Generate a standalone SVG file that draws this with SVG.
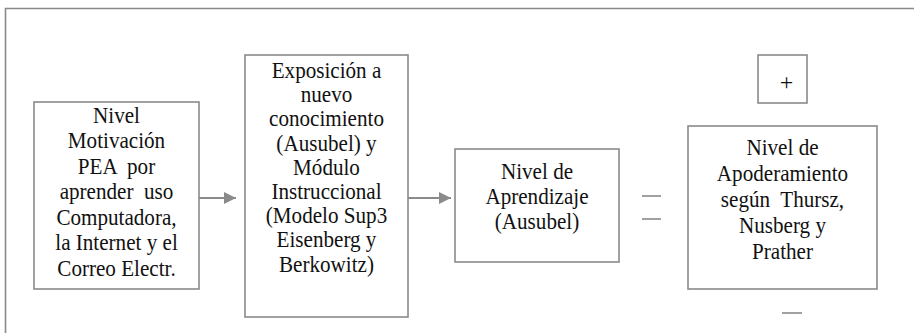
<svg xmlns="http://www.w3.org/2000/svg" width="914" height="333" viewBox="0 0 914 333">
<defs>
<style>
.box{fill:#fff;stroke:#8a8a8a;stroke-width:1.6}
.t{font-family:"Liberation Serif","Times New Roman",serif;font-size:24px;fill:#111;text-anchor:middle}
.c{stroke:#8a8a8a;stroke-width:2;fill:none}
.d{stroke:#8a8a8a;stroke-width:1.6}
</style>
<marker id="ah" viewBox="0 0 12 12" refX="12" refY="6" markerWidth="12" markerHeight="12" markerUnits="userSpaceOnUse" orient="auto">
<path d="M0,0 L12,6 L0,12 z" fill="#8a8a8a"/>
</marker>
</defs>
<rect width="914" height="333" fill="#fff"/>
<path d="M5.5,340 V8.5 H920" fill="none" stroke="#8a8a8a" stroke-width="1.6"/>
<g id="connectors">
<line class="c" x1="199" y1="198" x2="236" y2="198" marker-end="url(#ah)"/>
<line class="c" x1="408" y1="198" x2="451" y2="198" marker-end="url(#ah)"/>
<line class="d" x1="642" y1="196" x2="661" y2="196"/>
<line class="d" x1="642" y1="219" x2="661" y2="219"/>
<line class="d" x1="782" y1="313" x2="802" y2="313"/>
</g>
<g id="n1">
<rect class="box" x="34" y="102" width="165" height="187"/>
<g transform="translate(116.5,0) scale(0.88,1)">
<text class="t"><tspan x="0" y="123">Nivel</tspan><tspan x="0" y="148.5">Motivación</tspan><tspan x="0" y="174" xml:space="preserve">PEA  por</tspan><tspan x="0" y="199.5" xml:space="preserve">aprender  uso</tspan><tspan x="0" y="225">Computadora,</tspan><tspan x="0" y="250.5">la Internet y el</tspan><tspan x="0" y="276">Correo Electr.</tspan></text>
</g>
</g>
<g id="n2">
<rect class="box" x="245" y="55" width="163" height="262"/>
<g transform="translate(326.5,0) scale(0.88,1)">
<text class="t"><tspan x="0" y="78">Exposición a</tspan><tspan x="0" y="102.2">nuevo</tspan><tspan x="0" y="126.4">conocimiento</tspan><tspan x="0" y="150.6">(Ausubel) y</tspan><tspan x="0" y="174.8">Módulo</tspan><tspan x="0" y="199">Instruccional</tspan><tspan x="0" y="223.2">(Modelo Sup3</tspan><tspan x="0" y="247.4">Eisenberg y</tspan><tspan x="0" y="271.6">Berkowitz)</tspan></text>
</g>
</g>
<g id="n3">
<rect class="box" x="455" y="149" width="164" height="113"/>
<g transform="translate(537,0) scale(0.88,1)">
<text class="t"><tspan x="0" y="179">Nivel de</tspan><tspan x="0" y="204">Aprendizaje</tspan><tspan x="0" y="229">(Ausubel)</tspan></text>
</g>
</g>
<g id="plus">
<rect class="box" x="758" y="55" width="49" height="48"/>
<text class="t" x="786.5" y="90">+</text>
</g>
<g id="n4">
<rect class="box" x="688" y="126" width="189" height="163"/>
<g transform="translate(782.5,0) scale(0.88,1)">
<text class="t"><tspan x="0" y="155">Nivel de</tspan><tspan x="0" y="181">Apoderamiento</tspan><tspan x="0" y="207" xml:space="preserve">según  Thursz,</tspan><tspan x="0" y="233">Nusberg y</tspan><tspan x="0" y="259">Prather</tspan></text>
</g>
</g>
</svg>
